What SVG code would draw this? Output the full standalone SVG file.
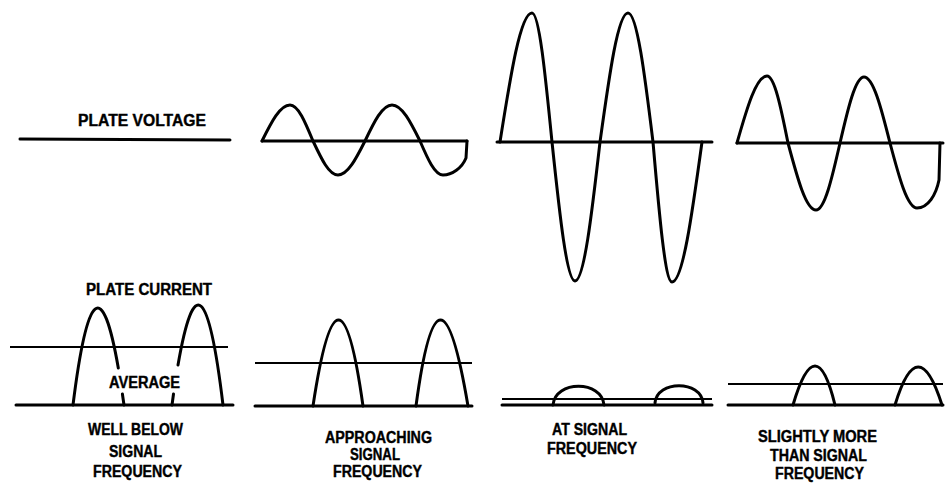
<svg xmlns="http://www.w3.org/2000/svg" width="946" height="483" viewBox="0 0 946 483">
<style>
  .t { font-family: "Liberation Sans", Arial, sans-serif; font-weight: bold; font-size: 16px; fill: #000; stroke: #000; stroke-width: 0.4; }
  .w { fill: none; stroke: #000; stroke-width: 3; stroke-linecap: round; stroke-linejoin: round; }
  .base { stroke: #000; stroke-width: 3; stroke-linecap: round; }
  .avg { stroke: #000; stroke-width: 2; }
</style>
<rect width="946" height="483" fill="#fff"/>

<g id="panel-1">
  <text class="t" x="78" y="126" textLength="128" lengthAdjust="spacingAndGlyphs">PLATE VOLTAGE</text>
  <line class="base" x1="20" y1="139" x2="230" y2="140"/>
  <text class="t" x="86" y="295" textLength="126" lengthAdjust="spacingAndGlyphs">PLATE CURRENT</text>
  <line class="avg" x1="10" y1="347" x2="228" y2="347"/>
  <line class="base" x1="16" y1="405" x2="233" y2="405"/>
  <path class="w" d="M73 405 Q94.5 231.6 118.3 368 M122.4 394 L124 405"/>
  <path class="w" d="M172 405 L173.5 394 M178 365 Q201.7 227.5 223 405"/>
  <text class="t" x="109" y="388" textLength="71" lengthAdjust="spacingAndGlyphs">AVERAGE</text>
  <text class="t" x="88" y="435" textLength="95" lengthAdjust="spacingAndGlyphs">WELL BELOW</text>
  <text class="t" x="109" y="457" textLength="53" lengthAdjust="spacingAndGlyphs">SIGNAL</text>
  <text class="t" x="93" y="477" textLength="89" lengthAdjust="spacingAndGlyphs">FREQUENCY</text>
</g>

<g id="panel-2">
  <line class="base" x1="262" y1="141" x2="467" y2="141"/>
  <path class="w" d="M262 141 C271.4 122.1 280 105 290 105 C298.2 105 305.3 122.1 313 141 C321.4 158.9 329 175 338 175 C347.7 175 356 158.9 365 141 C374 122.1 382.3 105 392 105 C402 105 410.6 122.1 420 141 C427.7 158.9 434.8 175 443 175 C452 175 462 168 466 158 L467 141"/>
  <line class="avg" x1="255" y1="363" x2="472" y2="363"/>
  <line class="base" x1="255" y1="406" x2="472" y2="406"/>
  <path class="w" d="M313 406 Q339 234 363 406"/>
  <path class="w" d="M416 406 Q439 234 468 406"/>
  <text class="t" x="325" y="443" textLength="107" lengthAdjust="spacingAndGlyphs">APPROACHING</text>
  <text class="t" x="350" y="460" textLength="50" lengthAdjust="spacingAndGlyphs">SIGNAL</text>
  <text class="t" x="333" y="477" textLength="89" lengthAdjust="spacingAndGlyphs">FREQUENCY</text>
</g>

<g id="panel-3">
  <line class="base" x1="497" y1="142" x2="712" y2="142"/>
  <path class="w" d="M500 142 C510.7 74.3 520.5 13 532 13 C539.2 13 545.3 74.3 552 142 C559.7 215 566.8 281 575 281 C584 281 591.7 215 600 142 C609.4 74.3 618 13 628 13 C637 13 644.7 74.3 653 142 C659.3 215 665.2 282 672 282 C682.7 282 692 215 702 142"/>
  <line class="avg" x1="502" y1="399" x2="712" y2="399"/>
  <line class="base" x1="502" y1="405" x2="712" y2="405"/>
  <path class="w" d="M553 405 C555 380 602 380 604 405"/>
  <path class="w" d="M655 403 C657 380 701 380 703 403"/>
  <text class="t" x="552" y="435" textLength="75" lengthAdjust="spacingAndGlyphs">AT SIGNAL</text>
  <text class="t" x="547" y="454" textLength="90" lengthAdjust="spacingAndGlyphs">FREQUENCY</text>
</g>

<g id="panel-4">
  <line class="base" x1="737" y1="143" x2="943" y2="143"/>
  <path class="w" d="M737 143 C747 107.8 756.3 76 767 76 C774.5 76 781 107.8 788 143 C797.4 178.2 806 210 816 210 C824.6 210 832 178.2 840 143 C848 108.3 855.4 77 864 77 C873.3 77 881.3 108.3 890 143 C899 177 907.3 208 917 208 C928 208 936 195 939 180 L940 143"/>
  <line class="avg" x1="728" y1="384" x2="943" y2="384"/>
  <line class="base" x1="728" y1="405" x2="943" y2="405"/>
  <path class="w" d="M793 405 Q816 327 835 405"/>
  <path class="w" d="M895 405 Q918 329 942 405"/>
  <text class="t" x="758" y="442" textLength="119" lengthAdjust="spacingAndGlyphs">SLIGHTLY MORE</text>
  <text class="t" x="770" y="461" textLength="97" lengthAdjust="spacingAndGlyphs">THAN SIGNAL</text>
  <text class="t" x="775" y="479" textLength="89" lengthAdjust="spacingAndGlyphs">FREQUENCY</text>
</g>
</svg>
